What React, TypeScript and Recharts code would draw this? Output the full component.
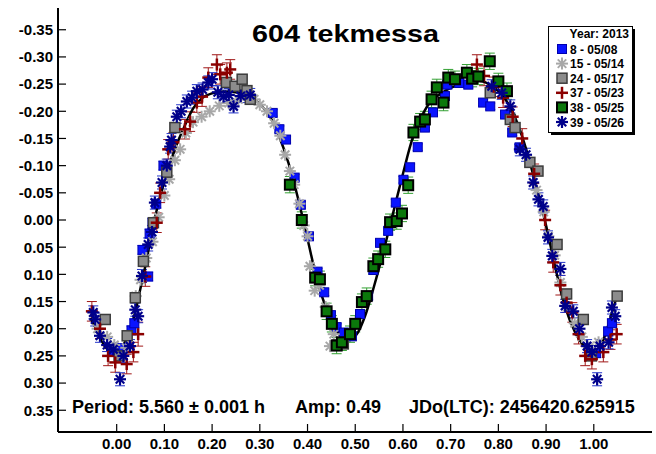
import React from "react";
import {
  ComposedChart,
  Scatter,
  Line,
  XAxis,
  YAxis,
  ErrorBar,
  Legend,
  Customized,
} from "recharts";

// [phase, reduced mag, error]
type Obs = [number, number, number];

const session8: Obs[] = [
  [-0.006, 0.242, 0.008], [0.012, 0.236, 0.008], [0.031, 0.203, 0.008],
  [0.037, 0.19, 0.008], [0.054, 0.055, 0.008], [0.066, 0.104, 0.008],
  [0.069, 0.025, 0.008], [0.075, 0.005, 0.008], [0.083, -0.03, 0.008],
  [0.098, -0.1, 0.008], [0.327, -0.197, 0.006], [0.341, -0.167, 0.006],
  [0.355, -0.148, 0.006], [0.373, -0.078, 0.006], [0.386, -0.028, 0.006],
  [0.403, 0.03, 0.006], [0.421, 0.095, 0.006], [0.435, 0.133, 0.006],
  [0.449, 0.175, 0.006], [0.461, 0.197, 0.006], [0.476, 0.207, 0.006],
  [0.493, 0.214, 0.006], [0.51, 0.173, 0.006], [0.527, 0.14, 0.006],
  [0.538, 0.092, 0.006], [0.552, 0.042, 0.006], [0.569, 0.02, 0.006],
  [0.585, -0.032, 0.006], [0.601, -0.074, 0.006], [0.615, -0.097, 0.006],
  [0.631, -0.134, 0.006], [0.646, -0.17, 0.006], [0.663, -0.198, 0.006],
  [0.688, -0.228, 0.006], [0.693, -0.249, 0.006], [0.718, -0.252, 0.006],
  [0.737, -0.249, 0.006], [0.768, -0.216, 0.006], [0.783, -0.209, 0.006],
  [0.814, -0.194, 0.006], [0.829, -0.161, 0.006], [0.844, -0.133, 0.006],
  [1.005, 0.245, 0.008], [1.03, 0.205, 0.008], [1.038, 0.19, 0.008],
];

const session15: Obs[] = [
  [-0.04, 0.2, 0], [-0.02, 0.215, 0], [-0.005, 0.23, 0], [0.02, 0.235, 0],
  [0.04, 0.14, 0], [0.05, 0.11, 0], [0.062, 0.07, 0], [0.075, 0.04, 0],
  [0.088, -0.005, 0], [0.1, -0.045, 0], [0.11, -0.075, 0], [0.122, -0.11, 0],
  [0.133, -0.13, 0], [0.145, -0.16, 0], [0.16, -0.18, 0], [0.178, -0.19, 0],
  [0.195, -0.2, 0], [0.215, -0.21, 0], [0.235, -0.215, 0], [0.255, -0.222, 0],
  [0.272, -0.228, 0], [0.288, -0.222, 0], [0.3, -0.212, 0], [0.315, -0.2, 0],
  [0.33, -0.178, 0], [0.343, -0.155, 0], [0.353, -0.12, 0], [0.363, -0.09, 0],
  [0.372, -0.065, 0], [0.383, -0.03, 0], [0.392, 0.01, 0], [0.4, 0.03, 0],
  [0.405, 0.085, 0], [0.415, 0.13, 0], [0.425, 0.12, 0], [0.438, 0.16, 0],
  [0.447, 0.232, 0], [0.455, 0.21, 0], [0.88, -0.055, 0], [0.895, -0.015, 0],
  [0.905, 0.03, 0], [0.918, 0.065, 0], [0.93, 0.115, 0], [0.945, 0.16, 0],
  [0.96, 0.19, 0], [0.975, 0.215, 0], [0.99, 0.235, 0], [1.01, 0.225, 0],
];

const session24: Obs[] = [
  [-0.024, 0.183, 0.008], [0.005, 0.25, 0.008], [0.022, 0.213, 0.008],
  [0.039, 0.143, 0.008], [0.056, 0.076, 0.008], [0.077, 0.005, 0.008],
  [0.105, -0.088, 0.008], [0.122, -0.17, 0.008], [0.23, -0.253, 0.008],
  [0.248, -0.246, 0.008], [0.263, -0.259, 0.008], [0.273, -0.238, 0.008],
  [0.28, -0.222, 0.008], [0.462, 0.23, 0.008], [0.475, 0.228, 0.008],
  [0.783, -0.234, 0.008], [0.825, -0.185, 0.008], [0.835, -0.17, 0.008],
  [0.866, -0.106, 0.008], [0.883, -0.09, 0.008], [0.923, 0.045, 0.008],
  [0.943, 0.136, 0.008], [0.978, 0.183, 0.008], [0.995, 0.25, 0.008],
  [1.049, 0.14, 0.008],
];

const session37: Obs[] = [
  [-0.052, 0.168, 0.018], [-0.035, 0.2, 0.018], [-0.018, 0.25, 0.018],
  [-0.003, 0.262, 0.018], [0.021, 0.265, 0.018], [0.035, 0.243, 0.018],
  [0.045, 0.21, 0.022], [0.06, 0.104, 0.018], [0.084, 0.005, 0.018],
  [0.091, -0.05, 0.018], [0.108, -0.13, 0.018], [0.119, -0.143, 0.018],
  [0.143, -0.167, 0.018], [0.154, -0.181, 0.018], [0.168, -0.216, 0.018],
  [0.179, -0.227, 0.018], [0.192, -0.262, 0.018], [0.21, -0.286, 0.018],
  [0.217, -0.268, 0.018], [0.231, -0.271, 0.018], [0.238, -0.277, 0.018],
  [0.755, -0.286, 0.018], [0.77, -0.265, 0.018], [0.79, -0.245, 0.018],
  [0.81, -0.225, 0.018], [0.83, -0.19, 0.018], [0.85, -0.15, 0.018],
  [0.875, -0.085, 0.018], [0.898, 0.0, 0.018], [0.915, 0.078, 0.018],
  [0.93, 0.12, 0.018], [0.943, 0.152, 0.018], [0.955, 0.17, 0.018],
  [0.968, 0.21, 0.018], [0.982, 0.25, 0.018], [0.996, 0.256, 0.018],
  [1.02, 0.243, 0.018], [1.035, 0.22, 0.018], [1.048, 0.21, 0.018],
];

const session38: Obs[] = [
  [0.363, -0.065, 0.015], [0.388, 0.0, 0.015], [0.416, 0.106, 0.015],
  [0.426, 0.109, 0.015], [0.44, 0.168, 0.015], [0.451, 0.191, 0.015],
  [0.461, 0.231, 0.015], [0.472, 0.225, 0.015], [0.489, 0.21, 0.015],
  [0.5, 0.191, 0.015], [0.514, 0.151, 0.015], [0.524, 0.14, 0.015],
  [0.538, 0.085, 0.015], [0.548, 0.072, 0.015], [0.563, 0.054, 0.015],
  [0.573, 0.004, 0.015], [0.587, 0.002, 0.015], [0.598, -0.012, 0.015],
  [0.611, -0.064, 0.015], [0.622, -0.161, 0.015], [0.636, -0.181, 0.015],
  [0.646, -0.185, 0.015], [0.66, -0.222, 0.015], [0.671, -0.244, 0.015],
  [0.685, -0.216, 0.015], [0.695, -0.262, 0.015], [0.709, -0.259, 0.015],
  [0.734, -0.271, 0.015], [0.745, -0.26, 0.015], [0.758, -0.264, 0.015],
  [0.782, -0.292, 0.015], [0.8, -0.255, 0.015], [0.818, -0.237, 0.015],
];

const session39: Obs[] = [
  [-0.049, 0.17, 0.012], [-0.045, 0.183, 0.012], [-0.035, 0.213, 0.012],
  [-0.02, 0.23, 0.012], [-0.007, 0.238, 0.012], [0.007, 0.293, 0.012],
  [0.014, 0.25, 0.012], [0.028, 0.232, 0.012], [0.039, 0.165, 0.012],
  [0.045, 0.177, 0.012], [0.053, 0.103, 0.012], [0.066, 0.045, 0.012],
  [0.074, 0.022, 0.012], [0.08, -0.032, 0.012], [0.095, -0.069, 0.012],
  [0.105, -0.1, 0.012], [0.112, -0.135, 0.012], [0.115, -0.147, 0.012],
  [0.126, -0.19, 0.012], [0.135, -0.2, 0.012], [0.147, -0.218, 0.012],
  [0.158, -0.225, 0.012], [0.168, -0.237, 0.012], [0.18, -0.24, 0.012],
  [0.192, -0.253, 0.012], [0.2, -0.259, 0.012], [0.212, -0.235, 0.012],
  [0.224, -0.227, 0.012], [0.235, -0.23, 0.012], [0.245, -0.209, 0.012],
  [0.26, -0.228, 0.012], [0.28, -0.23, 0.012], [0.786, -0.246, 0.012],
  [0.807, -0.234, 0.012], [0.825, -0.209, 0.012], [0.845, -0.13, 0.012],
  [0.858, -0.12, 0.012], [0.873, -0.069, 0.012], [0.884, -0.038, 0.012],
  [0.894, -0.025, 0.012], [0.904, 0.032, 0.012], [0.913, 0.066, 0.012],
  [0.93, 0.09, 0.012], [0.94, 0.158, 0.012], [0.957, 0.168, 0.012],
  [0.97, 0.2, 0.012], [0.986, 0.232, 0.012], [0.996, 0.243, 0.012],
  [1.007, 0.293, 0.012], [1.013, 0.232, 0.012], [1.031, 0.225, 0.012],
  [1.038, 0.161, 0.012], [1.045, 0.177, 0.012],
];

// Fourier fit, [phase, mag]
const fitCurve: [number, number][] = [
  [-0.055, 0.18], [-0.04, 0.205], [-0.025, 0.232], [-0.01, 0.243], [0.0, 0.243],
  [0.01, 0.235], [0.02, 0.22], [0.03, 0.197], [0.04, 0.165], [0.05, 0.125],
  [0.06, 0.085], [0.07, 0.04], [0.08, -0.003], [0.09, -0.04], [0.1, -0.07],
  [0.11, -0.1], [0.12, -0.125], [0.13, -0.148], [0.14, -0.168], [0.15, -0.188],
  [0.16, -0.205], [0.18, -0.225], [0.2, -0.233], [0.22, -0.236], [0.24, -0.236],
  [0.26, -0.233], [0.28, -0.226], [0.3, -0.213], [0.32, -0.192], [0.34, -0.155],
  [0.36, -0.105], [0.38, -0.04], [0.4, 0.035], [0.42, 0.11], [0.44, 0.165],
  [0.46, 0.203], [0.48, 0.218], [0.5, 0.213], [0.52, 0.178], [0.54, 0.12],
  [0.56, 0.055], [0.58, -0.015], [0.6, -0.085], [0.62, -0.15], [0.64, -0.192],
  [0.66, -0.22], [0.68, -0.233], [0.7, -0.243], [0.72, -0.25], [0.74, -0.254],
  [0.76, -0.256], [0.78, -0.25], [0.8, -0.237], [0.82, -0.215], [0.84, -0.178],
  [0.86, -0.125], [0.88, -0.06], [0.9, 0.01], [0.92, 0.09], [0.94, 0.16],
  [0.96, 0.205], [0.98, 0.232], [1.0, 0.243], [1.01, 0.237], [1.02, 0.22],
  [1.03, 0.195], [1.04, 0.165], [1.05, 0.135],
];

const phaseTicks = [0, 0.1, 0.2, 0.3, 0.4, 0.5, 0.6, 0.7, 0.8, 0.9, 1.0];
const magTicks = [
  -0.35, -0.3, -0.25, -0.2, -0.15, -0.1, -0.05, 0, 0.05, 0.1, 0.15, 0.2, 0.25,
  0.3, 0.35,
];

const chartTitle = "604 tekmessa";
const legendTitle = "Year: 2013";
const sessionLabels = [
  "8 - 05/08",
  "15 - 05/14",
  "24 - 05/17",
  "37 - 05/23",
  "38 - 05/25",
  "39 - 05/26",
];
const periodText = "Period: 5.560 ± 0.001 h";
const ampText = "Amp: 0.49";
const epochText = "JDo(LTC): 2456420.625915";

const FONT = "'Liberation Sans', Arial, sans-serif";

type Mark = { cx?: number; cy?: number };

function Square({ cx = 0, cy = 0, size, fill, stroke, sw }: Mark & { size: number; fill: string; stroke: string; sw: number }) {
  return (
    <rect
      x={cx - size / 2}
      y={cy - size / 2}
      width={size}
      height={size}
      fill={fill}
      stroke={stroke}
      strokeWidth={sw}
    />
  );
}

function Asterisk({ cx = 0, cy = 0, r, color, sw }: Mark & { r: number; color: string; sw: number }) {
  return (
    <g stroke={color} strokeWidth={sw} strokeLinecap="butt">
      {[0, 45, 90, 135].map((a) => {
        const dx = r * Math.cos((a * Math.PI) / 180);
        const dy = r * Math.sin((a * Math.PI) / 180);
        return <line key={a} x1={cx - dx} y1={cy - dy} x2={cx + dx} y2={cy + dy} />;
      })}
    </g>
  );
}

function Plus({ cx = 0, cy = 0, r, color, sw }: Mark & { r: number; color: string; sw: number }) {
  return (
    <g stroke={color} strokeWidth={sw}>
      <line x1={cx - r} y1={cy} x2={cx + r} y2={cy} />
      <line x1={cx} y1={cy - r} x2={cx} y2={cy + r} />
    </g>
  );
}

const markers = [
  (p: Mark) => <Square {...p} size={9} fill="#0a14ff" stroke="#0000b0" sw={1} />,
  (p: Mark) => <Asterisk {...p} r={6} color="#a8a8a8" sw={2} />,
  (p: Mark) => <Square {...p} size={10} fill="#8c8c8c" stroke="#3c3c3c" sw={1.5} />,
  (p: Mark) => <Plus {...p} r={6} color="#8b0000" sw={2.5} />,
  (p: Mark) => <Square {...p} size={10} fill="#0b780b" stroke="#000" sw={2} />,
  (p: Mark) => <Asterisk {...p} r={6} color="#00008b" sw={2.2} />,
];

const sessions = [session8, session15, session24, session37, session38, session39];
const errorColors = ["#2a44ff", null, "#6e6e6e", "#a01818", "#33a033", "#2233c8"];

const toRows = (obs: Obs[]) => obs.map(([phase, mag, err]) => ({ phase, mag, err }));
const fitRows = fitCurve.map(([phase, mag]) => ({ phase, mag }));

function LegendBox() {
  return (
    <svg width={90} height={112} style={{ display: "block" }}>
      <rect x={3} y={3} width={84} height={106} fill="#000" />
      <rect x={0.5} y={0.5} width={84} height={106} fill="#fff" stroke="#000" />
      <text x={81} y={12} textAnchor="end" fontFamily={FONT} fontWeight="bold" fontSize={12}>
        {legendTitle}
      </text>
      {sessionLabels.map((label, i) => {
        const cy = 23 + i * 14.6;
        return (
          <g key={label}>
            {markers[i]({ cx: 14, cy })}
            <text x={22} y={cy + 4.5} fontFamily={FONT} fontWeight="bold" fontSize={12}>
              {label}
            </text>
          </g>
        );
      })}
    </svg>
  );
}

const axisText = { fontFamily: FONT, fontWeight: "bold" as const, fontSize: 15, fill: "#000" };

export default function App() {
  return (
    <div style={{ position: "absolute", left: 0, top: 0, background: "#fff" }}>
      <ComposedChart
        width={656}
        height={454}
        margin={{ top: 8, right: 4, bottom: 0, left: 0 }}
      >
        <XAxis
          xAxisId="bottom"
          dataKey="phase"
          type="number"
          domain={[-0.123, 1.122]}
          allowDataOverflow
          ticks={phaseTicks}
          tickFormatter={(v: number) => v.toFixed(2)}
          height={22}
          tickSize={-8}
          tickMargin={14}
          tick={axisText}
          tickLine={{ stroke: "#000", strokeWidth: 1.2 }}
          axisLine={{ stroke: "#000", strokeWidth: 2 }}
        />
        <XAxis
          xAxisId="top"
          orientation="top"
          dataKey="phase"
          type="number"
          domain={[-0.123, 1.122]}
          allowDataOverflow
          ticks={phaseTicks}
          height={0}
          tickSize={-8}
          tick={false}
          tickLine={{ stroke: "#000", strokeWidth: 1.2 }}
          axisLine={{ stroke: "#000", strokeWidth: 2 }}
        />
        <YAxis
          yAxisId="left"
          dataKey="mag"
          type="number"
          domain={[-0.39, 0.39]}
          reversed
          allowDataOverflow
          ticks={magTicks}
          tickFormatter={(v: number) => v.toFixed(2)}
          width={58}
          tickSize={-8}
          tickMargin={13}
          tick={axisText}
          tickLine={{ stroke: "#000", strokeWidth: 1.2 }}
          axisLine={{ stroke: "#000", strokeWidth: 2 }}
        />
        <YAxis
          yAxisId="right"
          orientation="right"
          dataKey="mag"
          type="number"
          domain={[-0.39, 0.39]}
          reversed
          allowDataOverflow
          ticks={magTicks}
          width={0}
          tickSize={-8}
          tick={false}
          tickLine={{ stroke: "#000", strokeWidth: 1.2 }}
          axisLine={{ stroke: "#000", strokeWidth: 2 }}
        />

        {sessions.map((obs, i) => (
          <Scatter
            key={sessionLabels[i]}
            name={sessionLabels[i]}
            data={toRows(obs)}
            dataKey="mag"
            xAxisId="bottom"
            yAxisId="left"
            shape={markers[i]}
            isAnimationActive={false}
          >
            {errorColors[i] && (
              <ErrorBar
                dataKey="err"
                direction="y"
                width={5}
                stroke={errorColors[i] as string}
                strokeWidth={1}
              />
            )}
          </Scatter>
        ))}

        <Line
          data={fitRows}
          dataKey="mag"
          xAxisId="bottom"
          yAxisId="left"
          type="monotone"
          stroke="#000"
          strokeWidth={2.5}
          dot={false}
          activeDot={false}
          legendType="none"
          isAnimationActive={false}
        />

        <Legend
          layout="vertical"
          align="center"
          verticalAlign="middle"
          content={() => <LegendBox />}
          wrapperStyle={{ position: "absolute", left: 548, top: 26, width: 90, height: 112 }}
        />

        <Customized
          component={() => (
            <g fontFamily={FONT} fontWeight="bold" fill="#000">
              <text
                x={252}
                y={42}
                fontSize={24}
                textLength={187}
                lengthAdjust="spacingAndGlyphs"
              >
                {chartTitle}
              </text>
              <text x={72} y={413} fontSize={18}>
                {periodText}
              </text>
              <text x={295} y={413} fontSize={18}>
                {ampText}
              </text>
              <text x={409} y={413} fontSize={18}>
                {epochText}
              </text>
            </g>
          )}
        />
      </ComposedChart>
    </div>
  );
}
